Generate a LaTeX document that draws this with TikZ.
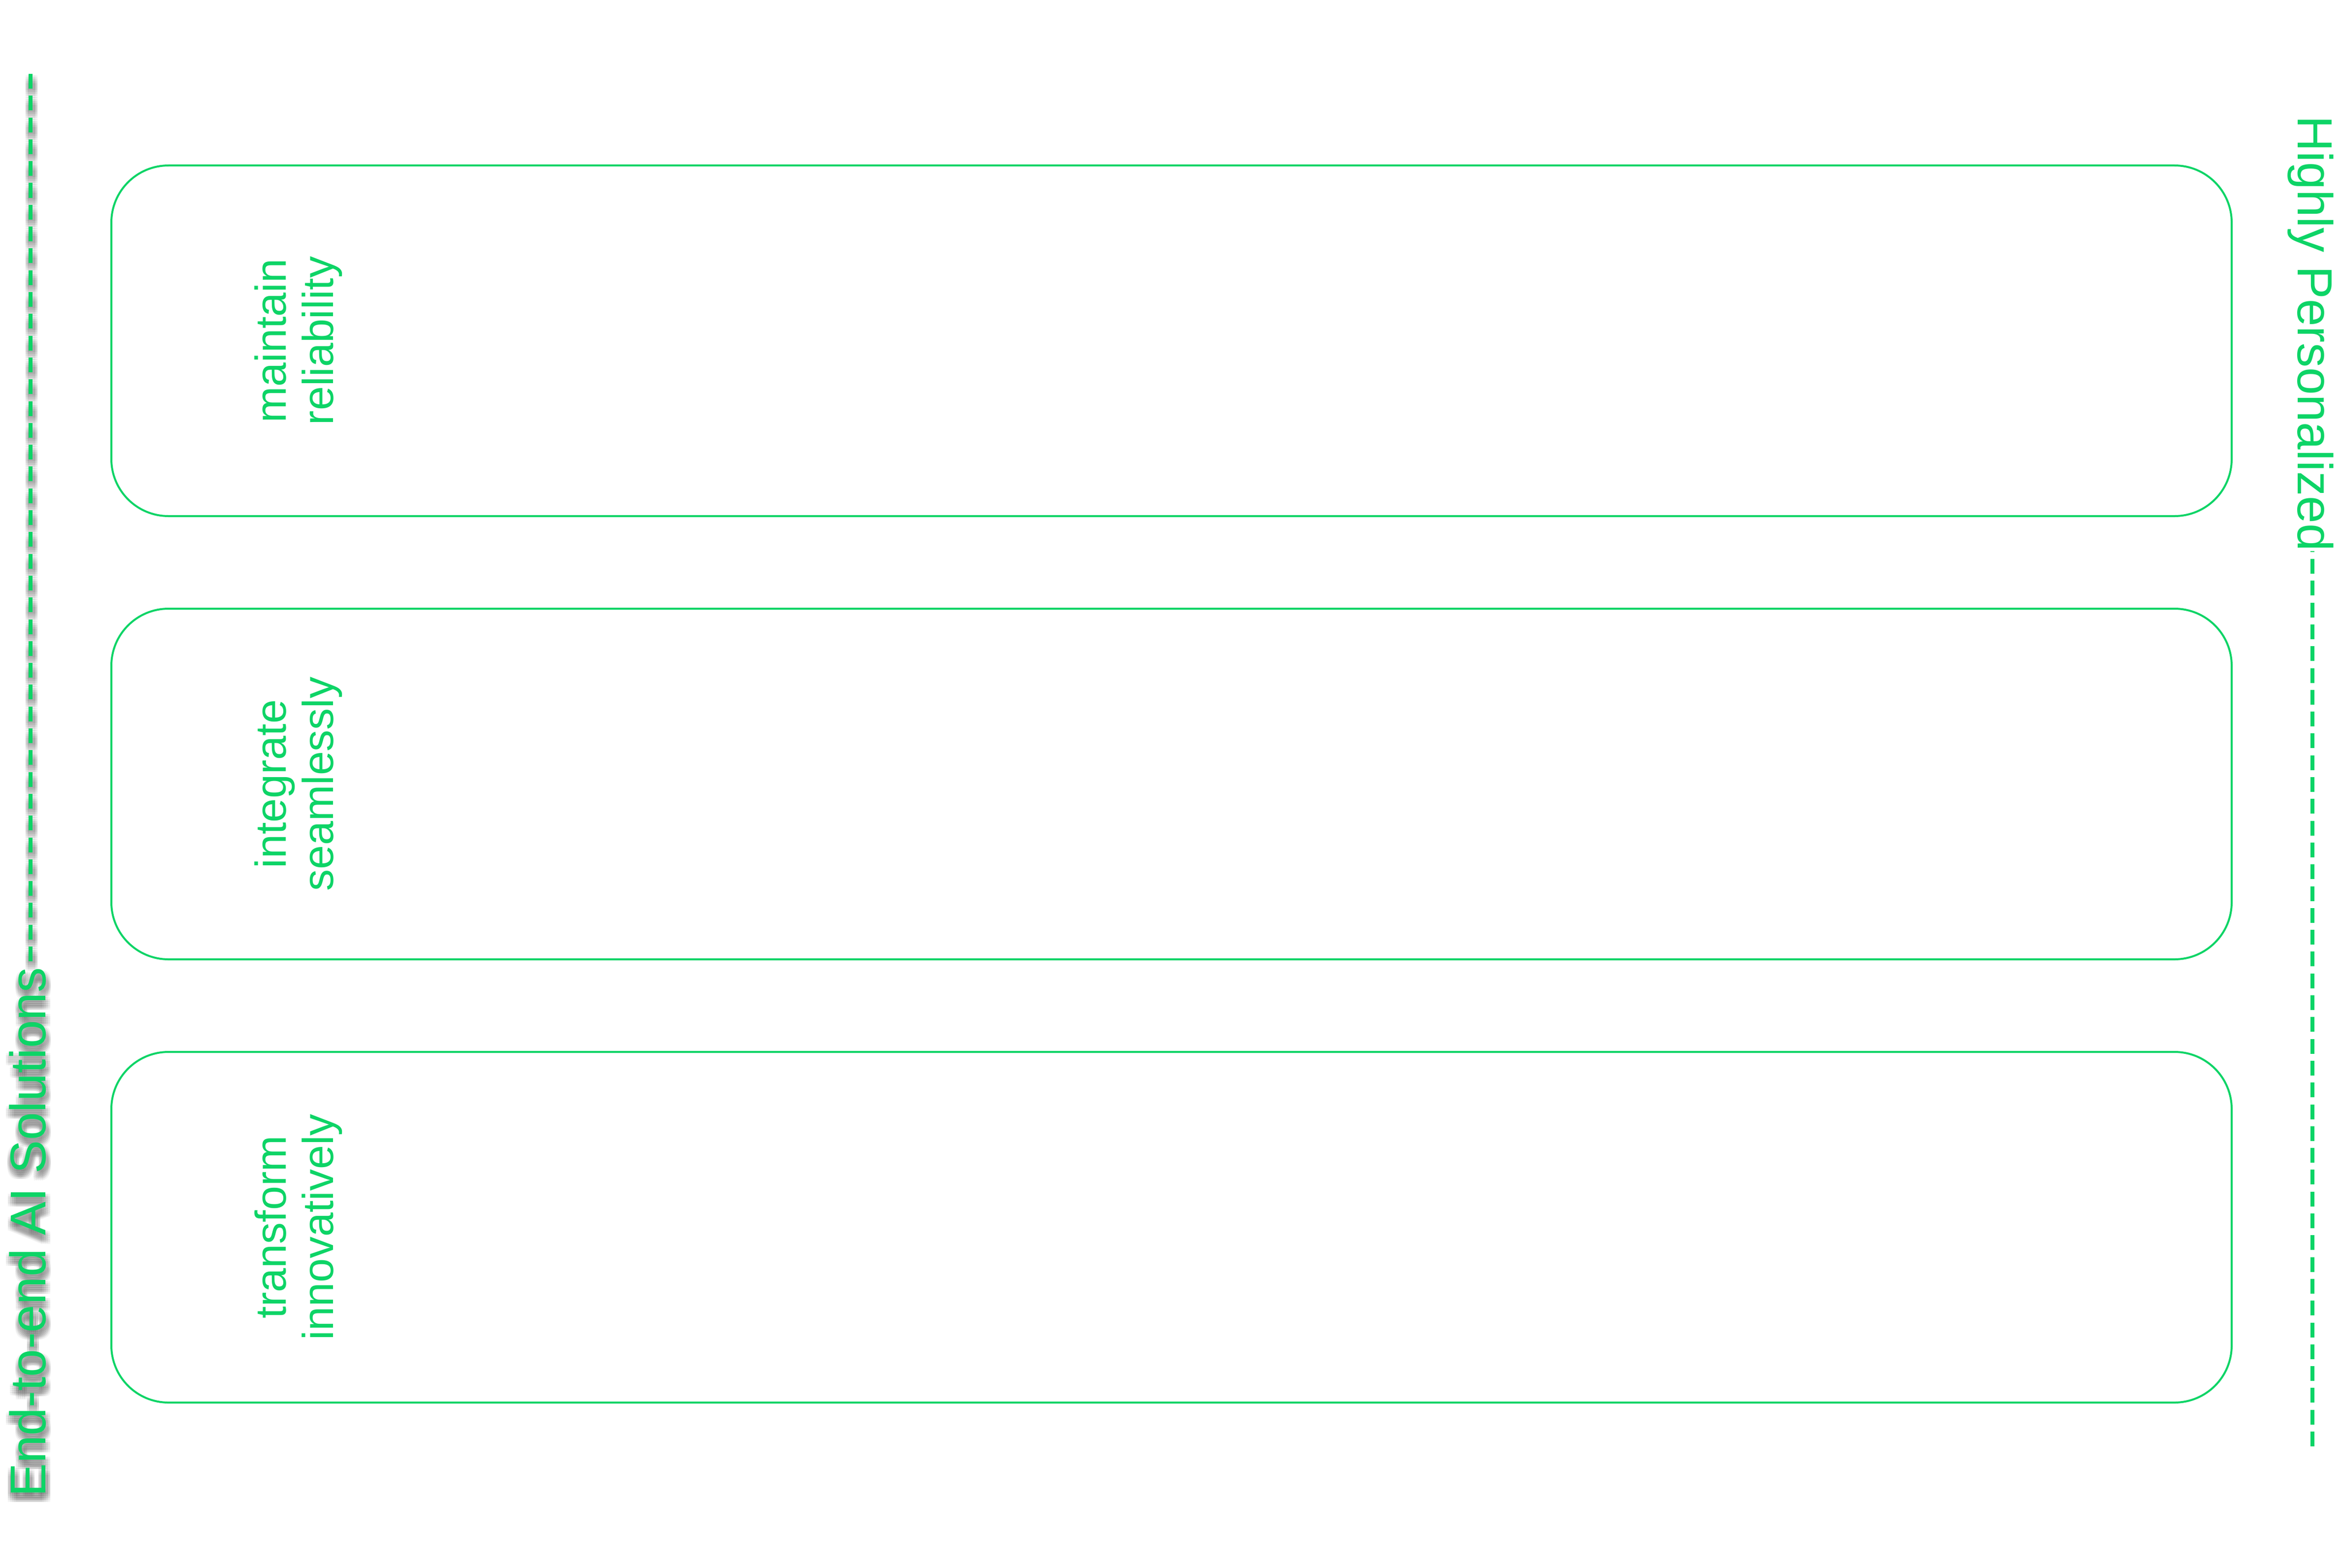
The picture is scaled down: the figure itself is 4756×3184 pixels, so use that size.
\documentclass[tikz,border=0pt]{standalone}
\usepackage{fontspec}
\setmainfont{Liberation Sans}
\usetikzlibrary{calc}
\pgfdeclarelayer{background}
\pgfsetlayers{background,main}
\definecolor{brandgreen}{RGB}{13,212,102}
\definecolor{shadowgray}{RGB}{60,60,60}
\tikzset{
  panel/.style={draw=brandgreen, line width=4pt, rounded corners=116pt, rectangle,
    minimum width=4304pt, minimum height=712pt, inner sep=0pt},
  panellabel/.style={text=brandgreen, font=\fontsize{88}{96}\selectfont, align=center,
    inner sep=0pt, rotate=90},
  sidetext/.style={text=brandgreen, font=\fontsize{100}{120}\selectfont, inner sep=0pt},
  lefttextstyle/.style={text=brandgreen, font=\fontsize{101.8}{120}\selectfont, inner sep=0pt},
  dashline/.style={draw=brandgreen, line width=7.3pt, dash pattern=on 30pt off 14.3pt},
  shadowcopy/.style={opacity=0.055, text opacity=0.055, draw opacity=0.055}
}
\begin{document}
\begin{tikzpicture}[x=1pt,y=-1pt]
\useasboundingbox (0,0) rectangle (4756,3184);

% panels
\node[panel] (p1) at (2378,692) {};
\node[panel] (p2) at (2378,1592) {};
\node[panel] (p3) at (2378,2492) {};

\node[panellabel] (l1) at (606,692) {maintain\\reliability};
\node[panellabel] (l2) at (606,1592) {integrate\\seamlessly};
\node[panellabel] (l3) at (606,2492) {transform\\innovatively};

% left label with dashed line
\node[lefttextstyle, rotate=90, anchor=base west] (lefttext) at (92,3040) {End-to-end AI Solutions};
\coordinate (lefttop) at (62,150);
\coordinate (leftend) at (lefttop |- lefttext.east);
\draw[dashline] (lefttop) -- (leftend);

% shadow of the left label and line
\begin{pgfonlayer}{background}
\foreach \dx [count=\i] in {-6,-2,2,6,10}{
  \foreach \dy [count=\j] in {3,7,11,15,19}{
    \node[lefttextstyle, text=shadowgray, shadowcopy, rotate=90, anchor=base west]
      (shadow\i\j) at ($(92,3040)+(\dx,\dy)$) {End-to-end AI Solutions};
    \draw[dashline, draw=shadowgray, shadowcopy]
      ($(lefttop)+(\dx,\dy)$) -- ($(leftend)+(\dx,\dy)$);
  }
}
\end{pgfonlayer}

% right label with dashed line
\node[sidetext, rotate=-90, anchor=base west] (righttext) at (4664,235) {Highly Personalized};
\coordinate (rightbot) at (4694,2937);
\draw[dashline] (rightbot) -- (righttext.east -| rightbot);
\end{tikzpicture}
\end{document}
